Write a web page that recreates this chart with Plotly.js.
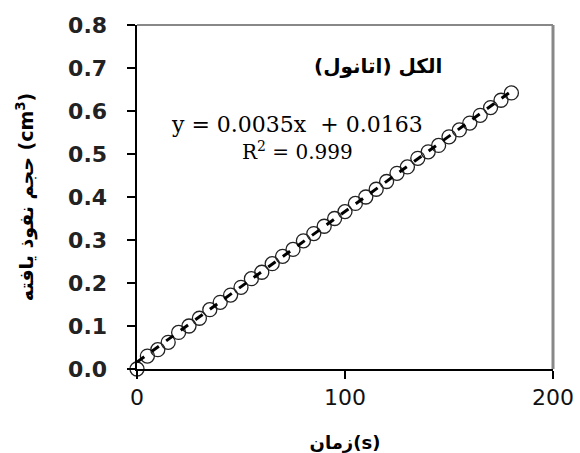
<!DOCTYPE html>
<html>
<head>
<meta charset="utf-8">
<script src="https://cdn.plot.ly/plotly-3.0.1.min.js"></script>
<style>html,body{margin:0;padding:0;background:#fff;}#chart{width:580px;height:453px;}</style>
</head>
<body>
<div id="chart"></div>
<script>
const timeS = [0,5,10,15,20,25,30,35,40,45,50,55,60,65,70,75,80,85,90,95,100,105,110,115,120,125,130,135,140,145,150,155,160,165,170,175,180];
const volume = [0.000,0.030,0.045,0.062,0.085,0.100,0.118,0.138,0.155,0.172,0.190,0.210,0.225,0.245,0.262,0.278,0.298,0.315,0.332,0.350,0.366,0.385,0.400,0.418,0.436,0.455,0.470,0.490,0.505,0.520,0.540,0.556,0.572,0.590,0.608,0.625,0.642];
const trendX = [0, 180];
const trendY = [0.0163, 0.6463];
const xTicks = [0, 100, 200];
const yTicks = [0.0,0.1,0.2,0.3,0.4,0.5,0.6,0.7,0.8];
const eqText = "y = 0.0035x  + 0.0163";
const r2Text = "R<sup>2</sup> = 0.999";
const seriesLabel = "الکل (اتانول)";
const xTitle = "زمان(s)";
const yTitle = "حجم نفوذ یافته (cm<sup>3</sup>)";

const data = [
  {x: timeS, y: volume, type: 'scatter', mode: 'markers', cliponaxis: false,
   marker: {symbol: 'circle-open', size: 14, color: '#222', line: {width: 1.3, color: '#222'}}},
  {x: trendX, y: trendY, type: 'scatter', mode: 'lines',
   line: {color: '#000', width: 3, dash: 'dash'}}
];
const layout = {
  width: 580, height: 453,
  margin: {l: 137, r: 27, t: 25, b: 84},
  paper_bgcolor: '#fff', plot_bgcolor: '#fff',
  showlegend: false,
  font: {family: 'DejaVu Sans, sans-serif', color: '#000'},
  xaxis: {range: [0, 200], tickvals: xTicks, ticktext: xTicks.map(String),
    showgrid: false, zeroline: false, showline: true, linecolor: '#000', linewidth: 1.5,
    ticks: 'outside', ticklen: 8, tickwidth: 1.5, tickcolor: '#000',
    tickfont: {size: 22, color: '#111'},
    title: {text: '<b>' + xTitle + '</b>', font: {size: 18, color: '#000'}, standoff: 27}},
  yaxis: {range: [0, 0.8], tickvals: yTicks, ticktext: yTicks.map(v => v.toFixed(1)),
    showgrid: false, zeroline: false, showline: true, linecolor: '#000', linewidth: 2.5,
    ticks: 'outside', ticklen: 8, tickwidth: 1.5, tickcolor: '#000', ticklabelstandoff: 15,
    tickfont: {size: 22, color: '#222', weight: 'bold'},
    title: {text: '<b>' + yTitle + '</b>', font: {size: 19, color: '#000'}, standoff: 30}},
  shapes: [
    {type: 'line', xref: 'paper', yref: 'paper', x0: 0, x1: 1, y0: 1, y1: 1, line: {color: '#888', width: 2}},
    {type: 'line', xref: 'paper', yref: 'paper', x0: 1, x1: 1, y0: 0, y1: 1, line: {color: '#888', width: 3}}
  ],
  annotations: [
    {x: 0.58, y: 0.882, xref: 'paper', yref: 'paper', xanchor: 'center', yanchor: 'middle',
     text: '<b>' + seriesLabel + '</b>', showarrow: false,
     font: {size: 20, color: '#000', family: 'DejaVu Sans, sans-serif'}},
    {x: 0.385, y: 0.712, xref: 'paper', yref: 'paper', xanchor: 'center', yanchor: 'middle',
     text: eqText, showarrow: false,
     font: {size: 22, color: '#000', family: 'DejaVu Serif, serif'}},
    {x: 0.385, y: 0.635, xref: 'paper', yref: 'paper', xanchor: 'center', yanchor: 'middle',
     text: r2Text, showarrow: false,
     font: {size: 20, color: '#000', family: 'DejaVu Serif, serif'}}
  ]
};
Plotly.newPlot('chart', data, layout, {displayModeBar: false, staticPlot: true});
</script>
</body>
</html>
